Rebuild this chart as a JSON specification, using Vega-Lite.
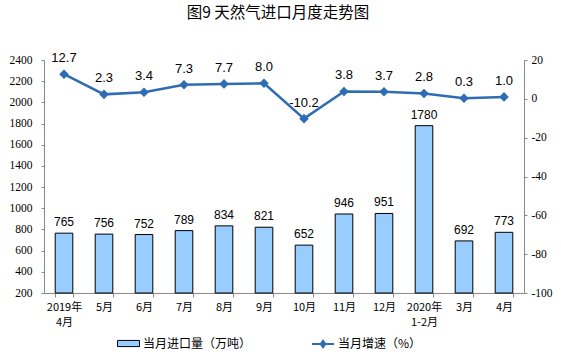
{
  "$schema": "https://vega.github.io/schema/vega-lite/v6.json",
  "autosize": "none",
  "width": 480,
  "height": 233,
  "padding": {"left": 44, "top": 60, "right": 37, "bottom": 64},
  "background": "white",
  "title": {
    "text": "图9  天然气进口月度走势图",
    "font": "Noto Sans CJK SC",
    "fontSize": 15.5,
    "fontWeight": "normal",
    "color": "#000000",
    "anchor": "middle",
    "frame": "group",
    "dx": -6,
    "offset": 31
  },
  "config": {
    "view": {"stroke": null},
    "locale": {"number": {"decimal": ".", "thousands": "", "grouping": [3], "currency": ["", ""], "minus": "-"}},
    "axis": {"grid": false, "domainColor": "#898989", "tickColor": "#898989", "labelColor": "#000000", "labelOverlap": false}
  },
  "data": {
    "values": [
      {"m": "2019年\n4月", "v": 765, "g": 12.7},
      {"m": "5月", "v": 756, "g": 2.3},
      {"m": "6月", "v": 752, "g": 3.4},
      {"m": "7月", "v": 789, "g": 7.3},
      {"m": "8月", "v": 834, "g": 7.7},
      {"m": "9月", "v": 821, "g": 8.0},
      {"m": "10月", "v": 652, "g": -10.2},
      {"m": "11月", "v": 946, "g": 3.8},
      {"m": "12月", "v": 951, "g": 3.7},
      {"m": "2020年\n1-2月", "v": 1780, "g": 2.8},
      {"m": "3月", "v": 692, "g": 0.3},
      {"m": "4月", "v": 773, "g": 1.0}
    ]
  },
  "encoding": {
    "x": {
      "field": "m",
      "type": "nominal",
      "sort": null,
      "scale": {"paddingInner": 0.56, "paddingOuter": 0.28},
      "axis": {
        "title": null,
        "labelAngle": 0,
        "labelExpr": "split(datum.label, '\\n')",
        "labelFont": "Noto Sans CJK SC",
        "labelFontSize": 11,
        "labelLineHeight": 15,
        "labelPadding": 4,
        "labelOverlap": false,
        "tickBand": "extent",
        "tickSize": 4,
        "domainColor": "#898989"
      }
    }
  },
  "layer": [
    {
      "encoding": {
        "y": {
          "field": "v",
          "type": "quantitative",
          "scale": {"domain": [200, 2400], "nice": false, "zero": false},
          "axis": {
            "title": null,
            "values": [200, 400, 600, 800, 1000, 1200, 1400, 1600, 1800, 2000, 2200, 2400],
            "format": "d",
            "labelOverlap": false,
            "labelFlush": false,
            "labelFont": "Liberation Serif",
            "labelFontSize": 11.5,
            "tickSize": 3,
            "labelPadding": 9,
            "domainColor": "#898989"
          }
        }
      },
      "layer": [
        {
          "mark": {"type": "bar", "stroke": "#000000", "strokeWidth": 1},
          "encoding": {
            "y2": {"datum": 200},
            "color": {
              "datum": "当月进口量（万吨）",
              "type": "nominal",
              "scale": {"range": ["#99CCFF"]},
              "legend": {
                "title": null,
                "orient": "none",
                "legendX": 73,
                "legendY": 272,
                "symbolType": "M-1,-0.28H1V0.28H-1Z",
                "symbolSize": 484,
                "symbolStrokeColor": "#000000",
                "symbolStrokeWidth": 1,
                "labelFont": "Noto Sans CJK SC",
                "labelFontSize": 12,
                "labelColor": "#000000",
                "labelOffset": 3
              }
            }
          }
        },
        {
          "mark": {"type": "text", "baseline": "bottom", "dy": -4, "font": "Liberation Sans", "fontSize": 12, "color": "#000000"},
          "encoding": {
            "text": {"field": "v", "type": "quantitative", "format": "d"}
          }
        }
      ]
    },
    {
      "encoding": {
        "y": {
          "field": "g",
          "type": "quantitative",
          "scale": {"domain": [-100, 20], "nice": false, "zero": false},
          "axis": {
            "title": null,
            "orient": "right",
            "values": [-100, -80, -60, -40, -20, 0, 20],
            "format": "d",
            "labelOverlap": false,
            "labelFlush": false,
            "labelFont": "Liberation Serif",
            "labelFontSize": 11.5,
            "tickSize": 3,
            "labelPadding": 4,
            "domainColor": "#898989"
          }
        }
      },
      "layer": [
        {
          "mark": {"type": "line", "strokeWidth": 2.5, "point": {"shape": "diamond", "filled": true, "size": 45, "color": "#2E6DB4"}},
          "encoding": {
            "stroke": {
              "datum": "当月增速（%）",
              "type": "nominal",
              "scale": {"range": ["#2E6DB4"]},
              "legend": {
                "title": null,
                "orient": "none",
                "legendX": 267,
                "legendY": 272,
                "symbolType": "M-1,0H1M0,-0.3L0.2,0L0,0.3L-0.2,0Z",
                "symbolSize": 484,
                "symbolFillColor": "#2E6DB4",
                "symbolStrokeWidth": 2,
                "labelFont": "Noto Sans CJK SC",
                "labelFontSize": 12,
                "labelColor": "#000000",
                "labelOffset": 3
              }
            }
          }
        },
        {
          "mark": {"type": "text", "baseline": "bottom", "dy": -9, "font": "Liberation Sans", "fontSize": 13, "color": "#000000"},
          "encoding": {
            "text": {"field": "g", "type": "quantitative", "format": ".1f"}
          }
        }
      ]
    }
  ],
  "resolve": {"scale": {"y": "independent"}}
}
